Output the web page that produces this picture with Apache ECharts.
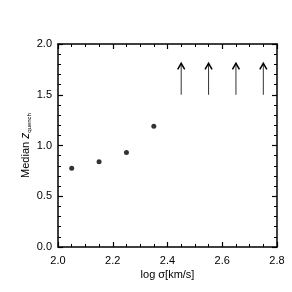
<!DOCTYPE html>
<html><head><meta charset="utf-8">
<script src="https://cdn.jsdelivr.net/npm/echarts@6/dist/echarts.min.js"></script>
<style>html,body{margin:0;padding:0;background:#fff}#c{width:292px;height:292px}</style>
</head><body><div id="c"></div>
<script>
var sigma = [2.05, 2.15, 2.25, 2.35];
var zQuench = [0.775, 0.84, 0.93, 1.19];
var limitSigma = [2.45, 2.55, 2.65, 2.75];
var limitFrom = [1.5, 1.5, 1.5, 1.5];
var limitTo = [1.81, 1.81, 1.81, 1.81];

var F = 'Liberation Sans, Arial, Helvetica, sans-serif';
var points = sigma.map(function(s, i){ return [s, zQuench[i]]; });
var limits = limitSigma.map(function(s, i){ return [s, limitFrom[i], limitTo[i]]; });

function baseX(show, pos){
  return {type:'value', min:2.0, max:2.8, interval:0.2, position:pos,
    axisLine:{show:true, onZero:false, lineStyle:{color:'#000', width:1.5}},
    axisTick:{show:true, inside:true, length:5, lineStyle:{color:'#000', width:1.2}},
    minorTick:{show:true, splitNumber:4, length:3, lineStyle:{color:'#000', width:1}},
    splitLine:{show:false},
    axisLabel:{show:show, color:'#000', fontSize:11, fontFamily:F, margin:8, formatter:function(v){return v.toFixed(1);}}
  };
}
function baseY(show, pos){
  return {type:'value', min:0, max:2.0, interval:0.5, position:pos,
    axisLine:{show:true, onZero:false, lineStyle:{color:'#000', width:1.5}},
    axisTick:{show:true, inside:true, length:5, lineStyle:{color:'#000', width:1.2}},
    minorTick:{show:true, splitNumber:5, length:3, lineStyle:{color:'#000', width:1}},
    splitLine:{show:false},
    axisLabel:{show:show, color:'#000', fontSize:11, fontFamily:F, margin:6, formatter:function(v){return v.toFixed(1);}}
  };
}
var x1 = baseX(true, 'bottom');
x1.name = 'log σ[km/s]'; x1.nameLocation = 'middle'; x1.nameGap = 22; x1.nameMoveOverlap = false;
x1.nameTextStyle = {color:'#000', fontSize:11, fontFamily:F};
var y1 = baseY(true, 'left');
y1.name = '{a|Median }{b|z}{s|quench}'; y1.nameLocation = 'middle'; y1.nameGap = 26; y1.nameMoveOverlap = false;
y1.nameTextStyle = {color:'#000', fontSize:11, fontFamily:F,
  rich:{a:{fontSize:11, fontFamily:F, color:'#000'}, b:{fontSize:12, fontFamily:F, fontStyle:'italic', color:'#000'},
        s:{fontSize:6, fontFamily:F, color:'#000', verticalAlign:'bottom', padding:[6,0,0,0]}}};

var chart = echarts.init(document.getElementById('c'));
chart.setOption({
  animation:false,
  grid:{left:58, right:15, top:44, bottom:45},
  xAxis:[x1, baseX(false, 'top')],
  yAxis:[y1, baseY(false, 'right')],
  series:[
    {type:'scatter', data:points, symbol:'circle', symbolSize:5, itemStyle:{color:'#000'}},
    {type:'custom', data:limits, renderItem:function(params, api){
      var x = api.value(0);
      var p0 = api.coord([x, api.value(1)]);
      var p1 = api.coord([x, api.value(2)]);
      return {type:'group', children:[
        {type:'line', shape:{x1:p0[0], y1:p0[1], x2:p1[0], y2:p1[1]}, style:{stroke:'#333', lineWidth:1}},
        {type:'polyline', shape:{points:[[p1[0]-3.5, p1[1]+6],[p1[0], p1[1]],[p1[0]+3.5, p1[1]+6]]}, style:{stroke:'#000', lineWidth:1.5, fill:null}}
      ]};
    }}
  ]
});
</script></body></html>
